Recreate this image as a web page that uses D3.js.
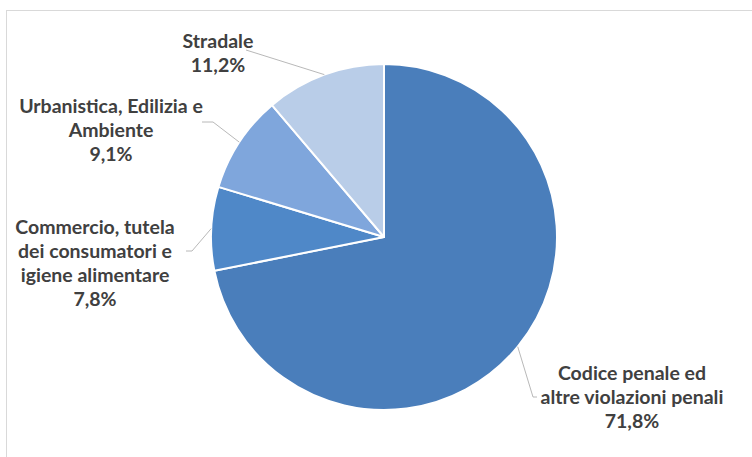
<!DOCTYPE html>
<html>
<head>
<meta charset="utf-8">
<script src="https://cdn.jsdelivr.net/npm/d3@7"></script>
<style>
  html, body { margin: 0; padding: 0; background: #fff; }
  svg { display: block; }
  text { font-family: "Lato", "Open Sans", sans-serif; font-weight: bold; fill: #404040; }
</style>
</head>
<body>
<div id="chart"></div>
<script>
// Categories and their share of the total (%), clockwise from 12 o'clock
const categories = [
  "Codice penale ed altre violazioni penali",
  "Commercio, tutela dei consumatori e igiene alimentare",
  "Urbanistica, Edilizia e Ambiente",
  "Stradale"
];
const values = [71.8, 7.8, 9.1, 11.2];
const valueLabels = ["71,8%", "7,8%", "9,1%", "11,2%"];
// Wrapped label lines for each slice
const labelLines = [
  ["Codice penale ed", "altre violazioni penali"],
  ["Commercio, tutela", "dei consumatori e", "igiene alimentare"],
  ["Urbanistica, Edilizia e", "Ambiente"],
  ["Stradale"]
];
const colors = ["#4a7ebb", "#4f88c8", "#7fa6dc", "#b9cde8"];

const W = 752, H = 457;
const cx = 384, cy = 237, R = 173;

// Label block placement (centre x, first baseline y) and leader start points
const labelPos = [
  { x: 632, y: 380, lead: [[537, 397], [533, 397]] },
  { x: 95,  y: 234, lead: [[186, 251], [192, 251]] },
  { x: 111, y: 113, lead: [[202, 122], [213, 122]] },
  { x: 218, y: 48,  lead: [[246, 50]] }
];
const lineH = 24;

const svg = d3.select("#chart").append("svg")
  .attr("width", W).attr("height", H);

// Chart area frame
svg.append("rect")
  .attr("x", 6.5).attr("y", 10.5)
  .attr("width", 760).attr("height", 460)
  .attr("fill", "none").attr("stroke", "#d9d9d9").attr("stroke-width", 1);

const data = categories.map((c, i) => ({ name: c, value: values[i], i }));
const pie = d3.pie().sort(null).value(d => d.value);
const arcs = pie(data);
const arc = d3.arc().innerRadius(0).outerRadius(R);

const g = svg.append("g").attr("transform", `translate(${cx},${cy})`);

g.selectAll("path.slice")
  .data(arcs)
  .join("path")
  .attr("class", "slice")
  .attr("d", arc)
  .attr("fill", d => colors[d.data.i])
  .attr("stroke", "#ffffff")
  .attr("stroke-width", 2)
  .attr("stroke-linejoin", "round");

// Leader lines from each label to the midpoint of its slice's rim
const line = d3.line();
arcs.forEach(d => {
  const a = (d.startAngle + d.endAngle) / 2;
  const rim = [cx + R * Math.sin(a), cy - R * Math.cos(a)];
  const pts = labelPos[d.data.i].lead.concat([rim]);
  svg.append("path")
    .attr("d", line(pts))
    .attr("fill", "none")
    .attr("stroke", "#a6a6a6")
    .attr("stroke-width", 0.8);
});

// Labels: category lines followed by the percentage
arcs.forEach(d => {
  const p = labelPos[d.data.i];
  const lines = labelLines[d.data.i].concat([valueLabels[d.data.i]]);
  const t = svg.append("text")
    .attr("text-anchor", "middle")
    .attr("font-size", 19.5);
  lines.forEach((s, k) => {
    t.append("tspan").attr("x", p.x).attr("y", p.y + k * lineH).text(s);
  });
});
</script>
</body>
</html>
